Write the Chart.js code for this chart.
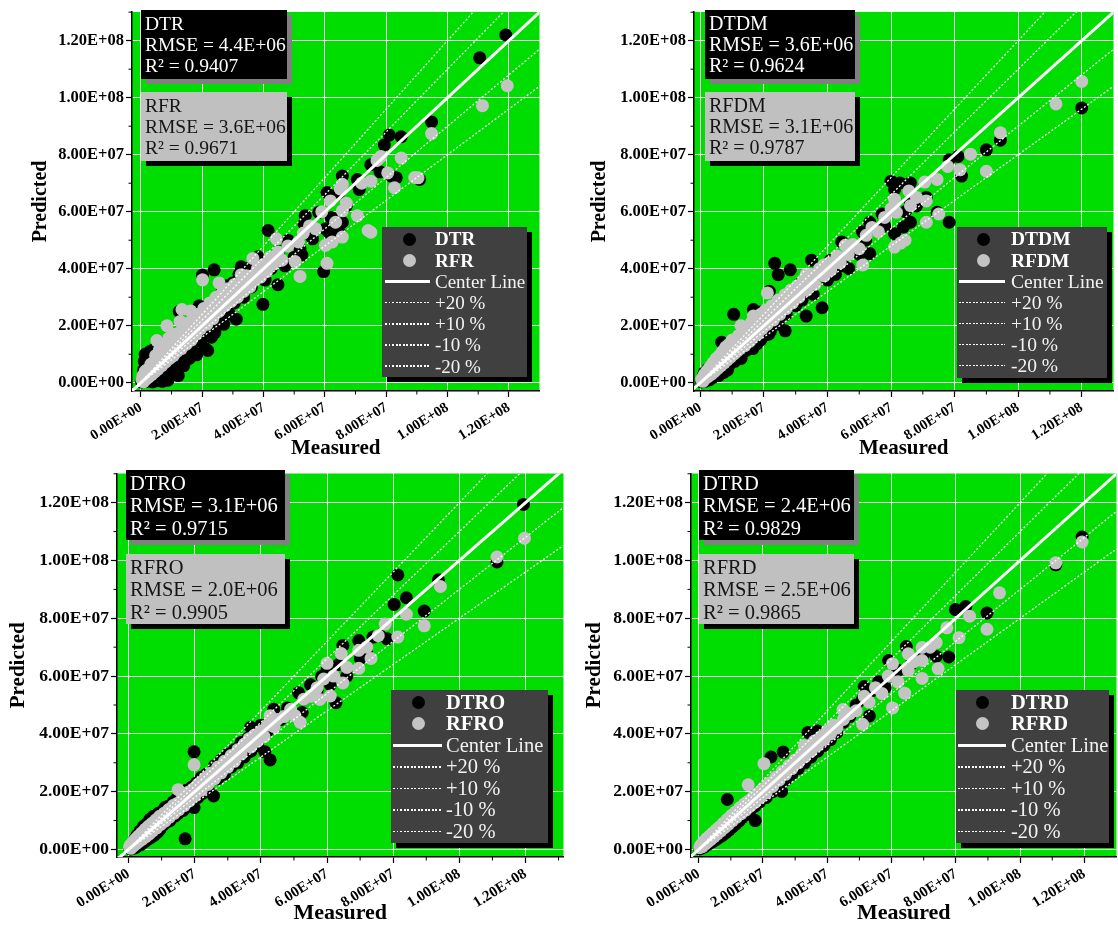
<!DOCTYPE html>
<html><head><meta charset="utf-8">
<script src="https://cdn.jsdelivr.net/npm/chart.js@4.4.1/dist/chart.umd.min.js"></script>
<style>
html,body{margin:0;padding:0;background:#fff;overflow:hidden;}
#wrap{position:relative;width:1118px;height:929px;overflow:hidden;background:#fff;font-family:'Liberation Serif','Times New Roman',serif;}
canvas{position:absolute;}
.sbox{position:absolute;box-sizing:border-box;padding-left:4px;white-space:nowrap;}
.sbox div{display:block;}
.lg{position:absolute;background:#404040;box-shadow:5px 5px 0 #000;}
.lg span{position:absolute;color:#fff;white-space:nowrap;}
</style></head><body><div id="wrap"></div>
<script>
// ---------- data (values in units of 1E+06) ----------
const tickValues = [0, 20, 40, 60, 80, 100, 120];
const tickLabels = ['0.00E+00', '2.00E+07', '4.00E+07', '6.00E+07', '8.00E+07', '1.00E+08', '1.20E+08'];
const minorTickValues = [10, 30, 50, 70, 90, 110, 130];

const dtNames = ['DTR', 'DTDM', 'DTRO', 'DTRD'];
const rfNames = ['RFR', 'RFDM', 'RFRO', 'RFRD'];
const dtRMSE = ['4.4E+06', '3.6E+06', '3.1E+06', '2.4E+06'];
const rfRMSE = ['3.6E+06', '3.1E+06', '2.0E+06', '2.5E+06'];
const dtR2 = ['0.9407', '0.9624', '0.9715', '0.9829'];
const rfR2 = ['0.9671', '0.9787', '0.9905', '0.9865'];

const refLineLabels = ['Center Line', '+20 %', '+10 %', '-10 %', '-20 %'];
const refLineFactors = [1, 1.2, 1.1, 0.9, 0.8];

// [measured, predicted]
const DTR = [[0.3,0.2],[0.6,1.8],[0.9,4.5],[1.1,7.5],[1.4,10],[1.6,0.4],[2.0,2.6],[2.4,5.5],[2.8,8.8],[3.2,0.9],[3.6,3.5],[4.0,11.5],[4.4,1.5],[4.8,6.2],[5.2,0.7],[5.6,9.5],[6.0,2.8],[6.4,12.8],[6.8,4.5],[7.2,1.2],[7.6,8.0],[8.0,2.2],[8.4,14.5],[8.8,0.9],[9.2,5.0],[9.6,10.5],[10.0,3.2],[10.5,16.0],[11.0,6.5],[11.5,12.5],[12.0,4.8],[12.5,25.0],[13.0,8.5],[13.5,18.0],[14.0,6.0],[14.8,12.5],[15.2,20.5],[15.8,8.5],[16.5,15.0],[17.0,11.0],[17.8,22.0],[18.2,9.8],[19.0,27.0],[19.5,14.5],[20.1,37.8],[20.5,18.0],[21.0,12.0],[21.8,11.3],[22.5,24.5],[23.0,16.0],[23.9,39.6],[24.1,17.6],[24.5,29.0],[25.5,21.0],[26.5,32.0],[27.0,20.5],[28.0,34.0],[29.0,24.0],[30.0,35.0],[31.1,22.3],[32.0,38.0],[32.7,40.7],[33.5,30.0],[35.0,40.0],[36.0,33.5],[37.0,42.0],[38.2,39.6],[38.2,44.2],[39.8,27.5],[40.5,36.0],[41.5,53.4],[42.5,40.0],[44.7,34.4],[45.0,46.0],[46.4,42.5],[47.0,41.0],[48.0,50.0],[50.0,44.0],[51.9,47.1],[52.5,44.8],[53.2,55.7],[53.6,58.6],[55.0,52.0],[56.0,50.5],[58.0,59.8],[59.6,39.0],[60.2,54.0],[60.7,66.7],[61.3,52.8],[62.0,58.0],[63.7,57.4],[64.6,66.7],[65.7,56.3],[65.7,72.5],[64.8,52.8],[67.0,62.0],[70.6,71.3],[71.2,67.8],[75.0,76.5],[78.0,74.0],[79.4,83.4],[81.0,86.9],[81.7,72.5],[83.3,71.9],[84.9,86.3],[90.9,71.3],[94.8,91.5],[110.5,114.0],[119.0,122.0],
  [1.0,2.0],[1.8,6.5],[2.2,9.5],[3.0,11.0],[3.8,0.3],[4.2,8.5],[5.0,5.0],[5.8,1.8],[6.2,7.0],[7.0,0.5],[7.8,3.5],[8.2,11.0],[9.0,1.8],[10.2,6.0],[11.2,9.0],[12.2,2.5],[13.2,14.0],[14.5,9.5],[16.0,11.5],[17.3,17.5],[18.8,20.5],[19.8,16.0],[21.5,22.0],[23.5,20.5],[25.0,25.0],[26.0,24.0],[27.5,28.5],[29.5,30.5],[30.5,28.0],[33.0,34.5],[34.5,33.0],[36.5,37.5],[39.0,40.0],[43.5,43.0]];
const RFR = [[0.4,1.0],[0.8,0.3],[1.2,3.0],[1.6,1.2],[2.0,4.5],[2.5,2.0],[3.0,5.5],[3.5,2.8],[4.0,7.0],[4.5,3.8],[5.2,14.8],[5.0,8.0],[5.6,4.8],[6.2,9.5],[6.8,6.0],[7.4,11.0],[8.0,7.2],[8.5,20.0],[8.8,12.5],[9.4,8.5],[10.0,14.0],[10.6,9.5],[11.2,16.0],[11.8,11.0],[12.5,17.5],[13.4,25.7],[13.2,12.0],[14.0,19.0],[14.8,13.5],[15.5,21.0],[16.2,25.2],[16.5,15.0],[17.2,22.5],[18.0,17.0],[18.8,24.0],[19.5,19.0],[20.1,36.1],[20.5,26.0],[21.5,20.5],[22.5,28.0],[23.5,22.5],[24.5,30.0],[25.5,35.0],[25.5,25.0],[26.5,31.5],[27.5,27.0],[28.5,33.0],[29.5,28.5],[30.5,34.5],[31.5,30.0],[32.7,37.9],[33.5,32.0],[34.5,37.5],[35.5,33.5],[36.5,43.6],[37.0,36.0],[38.0,40.0],[39.0,37.0],[40.0,41.5],[41.0,39.0],[42.0,44.0],[43.0,41.5],[44.2,50.5],[44.8,45.9],[46.0,43.0],[48.0,48.0],[50.3,42.5],[51.4,49.4],[51.9,37.3],[53.0,52.5],[55.0,55.0],[57.0,54.0],[59.0,60.0],[60.2,48.2],[60.7,41.9],[61.8,63.8],[62.4,49.4],[63.5,56.3],[65.0,68.0],[65.7,51.1],[65.7,60.3],[65.7,69.6],[67.0,63.0],[70.6,58.6],[72.0,70.0],[74.1,53.4],[75.0,52.8],[75.0,70.7],[77.0,78.0],[78.3,79.4],[80.5,73.6],[82.7,68.4],[84.9,78.8],[89.3,72.0],[90.4,71.9],[94.8,87.4],[111.4,97.2],[119.5,104.2],
  [0.6,2.2],[1.0,1.5],[1.4,4.0],[2.2,3.0],[2.8,4.8],[3.3,6.5],[4.2,5.2],[4.8,9.5],[5.4,6.5],[6.0,11.5],[6.6,8.0],[7.2,13.0],[7.8,9.5],[8.4,10.5],[9.0,15.5],[9.8,11.5],[10.4,17.0],[11.0,13.0],[12.0,14.5],[12.8,21.5],[13.8,16.0],[15.0,17.5],[16.0,18.5],[17.5,20.0],[18.5,21.5],[19.5,23.0],[21.0,24.0],[22.0,23.0],[23.0,26.5],[24.0,25.5],[26.0,28.0],[27.0,30.0],[29.0,31.0],[31.0,33.0],[33.0,35.5],[35.0,36.5],[37.5,38.5],[40.5,39.5]];

const DTDM = [[0.4,0.3],[0.8,1.5],[1.2,3.5],[1.6,0.8],[2.0,2.5],[2.5,5.0],[3.0,1.5],[3.5,4.0],[4.0,2.2],[4.5,6.5],[5.0,3.0],[5.5,8.0],[6.0,4.0],[6.7,14.2],[7.0,5.0],[7.5,9.5],[8.0,6.0],[8.5,4.4],[9.0,11.5],[9.5,7.0],[10.5,24.0],[10.0,9.0],[11.0,13.0],[11.5,8.5],[12.5,15.0],[13.0,10.0],[14.4,11.3],[14.0,17.5],[15.0,12.5],[16.0,19.0],[16.7,25.7],[17.0,14.0],[17.8,13.6],[18.5,21.0],[19.5,25.0],[20.0,16.5],[21.7,32.1],[22.0,18.0],[23.4,41.9],[23.0,26.0],[24.5,37.9],[24.5,20.5],[25.5,29.0],[26.7,18.2],[27.0,24.0],[28.3,39.6],[28.5,31.0],[30.0,27.0],[31.0,34.5],[32.0,29.0],[33.3,23.4],[34.0,37.0],[35.0,43.0],[35.5,31.0],[37.0,39.0],[38.3,26.3],[38.9,40.7],[40.0,36.0],[41.0,43.0],[42.5,38.0],[44.5,49.4],[45.0,41.0],[46.7,40.1],[48.0,47.0],[50.0,45.0],[51.0,53.0],[52.0,50.0],[53.3,56.3],[53.3,45.3],[55.0,54.0],[57.2,59.2],[58.0,55.0],[60.0,70.7],[61.1,67.8],[61.1,52.3],[62.8,70.1],[63.9,54.6],[64.5,60.0],[66.1,70.1],[66.1,63.2],[66.1,56.3],[68.0,62.0],[71.1,65.0],[74.5,59.8],[78.3,78.2],[78.3,56.3],[81.1,79.4],[82.2,72.5],[90.0,81.7],[94.4,85.1],[120.0,96.4],
  [1.0,2.2],[1.4,0.5],[2.2,3.5],[2.8,1.0],[3.3,5.5],[3.8,1.8],[4.3,4.5],[5.2,6.0],[5.8,2.5],[6.4,7.5],[7.2,3.5],[7.8,8.0],[8.8,5.5],[9.8,10.5],[10.8,7.5],[11.8,12.0],[12.8,8.5],[13.5,13.0],[15.5,15.0],[16.5,12.0],[18.0,18.5],[19.0,15.0],[20.5,20.0],[21.5,17.0],[23.0,22.5],[25.0,23.0],[26.0,27.0],[29.0,29.5],[31.5,31.0],[33.5,34.0],[36.0,36.5]];
const RFDM = [[0.4,1.2],[0.8,0.5],[1.2,2.8],[1.6,1.5],[2.0,4.0],[2.5,2.2],[3.0,5.5],[3.5,3.0],[4.0,7.0],[4.5,4.0],[5.0,8.5],[5.5,5.0],[6.0,9.5],[6.5,6.0],[7.0,11.0],[7.5,7.0],[8.0,12.5],[8.5,8.0],[9.0,13.5],[9.5,9.0],[10.0,15.0],[10.5,10.0],[11.0,14.0],[11.5,11.0],[12.0,16.5],[12.8,20.0],[12.5,12.0],[13.5,17.5],[14.0,13.0],[15.0,19.0],[15.5,14.5],[16.0,21.0],[16.7,23.4],[16.5,16.0],[17.5,22.0],[18.0,17.0],[19.0,24.0],[19.5,19.0],[20.5,25.5],[21.1,31.5],[21.0,20.5],[22.5,27.0],[23.0,22.0],[24.5,29.0],[25.0,24.0],[26.7,30.9],[27.0,26.0],[28.5,32.5],[29.0,28.0],[30.5,34.0],[31.0,30.0],[32.5,36.0],[33.3,37.9],[33.5,32.5],[35.0,38.0],[36.0,34.5],[37.5,40.0],[38.9,41.3],[39.0,37.5],[40.5,42.0],[41.0,39.5],[43.0,44.5],[44.0,42.0],[45.6,48.2],[46.5,45.0],[48.0,48.5],[50.0,47.0],[51.1,41.3],[52.2,51.7],[54.0,54.5],[56.0,53.0],[58.0,58.0],[60.0,61.0],[61.1,64.4],[61.1,47.6],[61.7,59.8],[63.0,49.0],[64.4,50.0],[65.6,67.3],[66.1,62.1],[68.0,65.0],[70.6,70.4],[71.1,63.8],[71.1,56.3],[74.5,71.3],[75.0,59.2],[77.8,75.9],[81.7,74.7],[85.0,80.2],[90.0,74.2],[94.4,87.7],[111.9,97.8],[120.0,105.7],
  [0.6,0.8],[1.0,2.0],[1.8,2.5],[2.2,3.2],[2.8,3.8],[3.3,4.5],[3.8,5.0],[4.3,5.8],[4.8,6.2],[5.3,6.8],[5.8,7.5],[6.3,8.0],[6.8,8.5],[7.3,9.5],[7.8,10.0],[8.3,10.5],[8.8,11.0],[9.3,12.0],[9.8,12.5],[10.8,13.0],[11.8,14.0],[13.0,15.5],[14.5,17.0],[16.0,18.5],[17.0,19.5],[18.5,20.5],[20.0,22.5],[21.5,23.5],[23.5,25.5],[26.0,28.5],[28.0,30.0],[30.0,32.0],[32.0,33.5],[34.5,36.0],[37.0,38.5]];

const DTRO = [[0.3,0.5],[0.6,0.2],[1.0,2.0],[1.4,0.8],[1.8,3.5],[2.2,1.0],[2.6,5.0],[3.0,1.5],[3.5,6.5],[4.0,2.2],[4.5,8.0],[5.0,3.0],[5.5,9.0],[6.0,4.0],[6.5,10.5],[7.0,5.0],[7.5,11.5],[8.0,6.0],[8.5,7.5],[9.0,12.5],[9.5,7.0],[10.0,13.0],[10.5,8.5],[11.0,14.5],[11.5,9.5],[12.0,15.0],[12.5,10.0],[13.5,16.5],[14.0,11.5],[14.5,17.5],[15.0,12.5],[16.0,19.0],[16.5,13.5],[17.1,3.7],[17.5,20.5],[18.0,15.0],[19.0,21.5],[19.8,33.8],[19.8,14.5],[20.5,23.0],[21.0,18.0],[22.0,25.0],[22.5,19.5],[23.5,26.0],[24.0,21.0],[25.7,18.5],[26.0,29.0],[27.0,24.5],[28.0,31.0],[29.0,26.0],[30.0,33.0],[31.0,28.5],[32.0,34.5],[33.0,30.0],[34.0,37.0],[35.0,32.0],[36.0,38.5],[36.9,42.3],[37.0,34.0],[38.5,40.0],[39.0,36.0],[40.0,43.0],[41.2,33.8],[42.0,41.0],[42.8,31.0],[43.9,48.5],[44.0,44.0],[46.0,45.0],[48.0,49.0],[50.0,47.0],[51.4,54.2],[52.5,47.4],[53.0,52.0],[55.0,57.0],[57.0,55.0],[58.4,59.9],[60.0,62.0],[61.0,57.0],[62.7,50.8],[63.5,64.0],[64.8,70.6],[66.0,60.0],[69.6,72.3],[70.1,66.1],[72.0,68.0],[73.9,73.5],[76.0,74.0],[78.2,72.9],[80.3,84.8],[81.4,95.0],[84.0,87.1],[89.4,82.5],[93.7,93.3],[111.4,99.5],[119.4,119.4],
  [0.8,1.2],[1.2,0.4],[1.6,2.4],[2.0,0.6],[2.4,3.0],[2.8,1.2],[3.3,4.0],[3.8,1.8],[4.3,5.0],[4.8,2.6],[5.3,6.0],[5.8,3.5],[6.3,7.0],[6.8,4.2],[7.3,8.0],[7.8,5.0],[8.3,9.0],[8.8,6.0],[9.3,10.0],[10.2,10.5],[11.2,11.0],[12.2,12.0],[13.2,13.0],[15.5,15.0],[17.0,17.0],[18.5,18.0],[20.0,20.0],[23.0,23.0],[25.0,25.0],[28.5,28.5]];
const RFRO = [[0.3,0.8],[0.7,0.4],[1.1,2.2],[1.5,1.2],[1.9,3.2],[2.3,2.0],[2.8,4.2],[3.2,2.8],[3.7,5.2],[4.2,3.6],[4.7,6.2],[5.2,4.4],[5.7,7.2],[6.2,5.3],[6.8,8.2],[7.3,6.4],[7.9,9.5],[8.5,7.5],[9.1,10.5],[9.7,8.7],[10.3,11.8],[11.0,9.8],[11.7,13.0],[12.4,11.2],[13.1,14.2],[13.8,12.5],[14.5,15.8],[15.0,20.7],[15.2,13.8],[16.0,17.2],[16.8,15.2],[17.6,18.8],[18.4,16.8],[19.2,20.5],[19.8,29.3],[20.0,18.5],[21.0,22.5],[22.0,20.5],[23.0,24.5],[24.0,22.5],[25.0,26.5],[26.0,24.5],[27.0,28.5],[28.0,26.5],[29.0,30.5],[30.0,28.5],[31.0,32.5],[32.0,30.5],[33.0,34.5],[34.0,33.0],[35.0,36.5],[36.4,38.3],[37.0,35.5],[38.0,39.5],[39.0,37.5],[40.0,41.0],[41.0,39.0],[42.0,43.0],[42.8,46.3],[44.0,42.5],[45.0,45.0],[47.0,46.0],[49.0,48.5],[50.3,46.3],[51.9,44.0],[53.0,52.0],[55.0,53.0],[57.0,56.0],[57.8,51.9],[59.0,59.0],[60.0,64.4],[61.0,53.1],[62.0,60.0],[64.3,67.8],[64.8,57.6],[66.0,63.0],[69.6,68.9],[69.6,62.7],[72.0,70.0],[73.3,66.1],[75.5,74.0],[77.6,78.0],[81.4,73.5],[84.0,81.4],[89.4,77.4],[94.3,91.0],[111.4,101.2],[119.7,107.7],
  [0.5,1.4],[0.9,1.8],[1.3,2.6],[1.7,2.2],[2.1,3.5],[2.6,3.2],[3.0,4.6],[3.5,4.0],[4.0,5.8],[4.5,5.0],[5.0,7.0],[5.5,6.0],[6.0,8.0],[6.5,7.0],[7.0,9.0],[7.6,8.2],[8.2,10.2],[8.8,9.5],[9.4,11.5],[10.0,10.5],[10.7,12.5],[11.4,11.5],[12.1,13.8],[12.8,12.8],[13.5,15.2],[14.2,14.0],[16.4,17.5],[18.0,19.8],[19.6,21.0],[21.5,23.0],[23.5,25.0]];

const DTRD = [[0.3,0.2],[0.6,0.9],[1.0,0.5],[1.4,1.6],[1.8,1.0],[2.2,2.5],[2.6,1.6],[3.0,3.2],[3.5,2.2],[4.0,3.8],[4.5,2.8],[5.0,4.5],[5.5,3.5],[6.0,5.2],[6.5,4.3],[7.0,6.0],[7.5,5.0],[8.0,6.8],[8.9,17.3],[8.5,5.8],[9.0,7.8],[9.5,6.8],[10.0,8.8],[10.5,7.8],[11.0,9.8],[11.5,8.8],[12.0,10.8],[12.5,9.8],[13.0,12.0],[13.5,11.0],[14.0,13.0],[14.5,12.0],[15.0,14.0],[16.0,13.5],[16.5,15.5],[17.6,10.0],[17.5,15.0],[18.0,17.5],[19.0,16.5],[20.0,19.5],[21.0,18.0],[22.0,21.5],[22.5,32.0],[23.0,20.0],[24.0,23.0],[25.8,20.1],[25.0,22.5],[26.3,33.7],[26.0,25.0],[27.0,24.0],[28.0,27.5],[29.0,26.0],[30.0,29.5],[31.0,28.0],[32.0,31.5],[33.0,30.0],[34.0,40.5],[34.0,33.0],[35.0,32.0],[36.0,35.0],[37.0,41.0],[37.0,34.0],[38.0,37.0],[39.0,36.0],[40.0,39.0],[41.0,38.0],[42.0,41.0],[43.0,40.5],[45.0,44.0],[47.0,46.0],[49.0,50.0],[51.0,52.0],[51.5,56.4],[53.1,46.2],[54.0,55.0],[56.0,58.0],[58.0,56.0],[59.1,65.4],[60.0,60.0],[62.0,62.0],[64.6,70.2],[66.0,64.0],[70.1,67.7],[73.9,66.8],[77.8,66.6],[79.9,83.0],[83.1,84.1],[89.7,81.8],[111.1,98.5],[119.3,108.1],
  [0.8,1.3],[1.2,0.7],[1.6,2.0],[2.0,1.2],[2.4,2.8],[2.8,2.0],[3.3,3.6],[3.8,2.6],[4.3,4.2],[4.8,3.2],[5.3,5.0],[5.8,4.0],[6.3,5.6],[6.8,4.8],[7.3,6.4],[7.8,5.6],[8.3,7.2],[8.8,6.4],[9.3,8.0],[9.8,7.4],[10.3,9.0],[10.8,8.4],[11.3,10.0],[12.3,11.5],[13.3,12.5],[14.3,13.5],[15.5,15.0],[17.0,16.0],[19.5,18.5],[21.5,20.5]];
const RFRD = [[0.3,0.6],[0.7,1.4],[1.1,1.0],[1.5,2.4],[1.9,1.8],[2.3,3.4],[2.8,2.6],[3.3,4.4],[3.8,3.5],[4.3,5.4],[4.8,4.4],[5.3,6.4],[5.8,5.4],[6.3,7.5],[6.9,6.4],[7.5,8.8],[8.1,7.6],[8.7,10.0],[9.3,8.8],[9.9,11.2],[10.5,10.0],[11.1,12.4],[11.8,11.2],[12.5,13.8],[13.2,12.4],[13.9,15.2],[14.6,13.6],[15.4,22.4],[15.3,16.6],[16.0,15.0],[16.8,18.0],[17.6,16.4],[18.4,19.5],[19.2,18.0],[20.3,29.7],[20.0,21.0],[21.0,19.6],[22.0,23.0],[23.0,21.8],[24.0,25.0],[25.0,24.0],[26.0,27.0],[27.0,26.0],[28.0,29.0],[29.0,28.0],[30.0,31.0],[31.0,30.0],[32.0,33.0],[32.9,36.0],[33.0,32.0],[34.0,35.0],[35.0,34.0],[36.0,37.5],[37.0,36.0],[38.0,39.0],[39.0,38.0],[40.0,41.0],[41.0,40.0],[42.0,43.0],[43.0,42.0],[44.9,48.4],[45.0,45.0],[47.0,47.0],[49.0,48.0],[51.0,43.3],[51.5,53.0],[53.0,51.0],[55.0,56.0],[57.0,54.0],[59.0,60.0],[60.3,64.3],[60.3,49.0],[62.0,58.0],[64.1,54.1],[65.2,67.7],[65.2,62.0],[67.0,65.0],[69.5,69.9],[69.5,65.4],[69.5,59.2],[72.0,70.0],[73.9,71.6],[74.5,62.6],[77.2,76.7],[81.0,73.3],[84.3,80.7],[89.7,76.2],[93.6,88.8],[111.1,99.2],[119.3,106.4],
  [0.5,1.0],[0.9,1.8],[1.3,1.4],[1.7,2.8],[2.1,2.2],[2.5,3.8],[3.0,3.0],[3.5,4.8],[4.0,4.0],[4.5,5.8],[5.0,5.0],[5.5,6.8],[6.0,6.0],[6.6,7.8],[7.2,7.0],[7.8,9.2],[8.4,8.2],[9.0,10.5],[9.6,9.5],[10.2,11.8],[10.8,10.8],[11.5,13.0],[12.2,12.0],[12.9,14.5],[13.6,13.4],[14.3,15.8],[16.4,17.2],[18.0,18.8],[19.6,20.4],[21.5,22.4]];

const dtSeries = [DTR, DTDM, DTRO, DTRD];
const rfSeries = [RFR, RFDM, RFRO, RFRD];

// ---------- layout / style ----------
const FONT = "'Liberation Serif','Times New Roman',serif";
const GREEN = '#00dd00';
const GRAY_PT = '#c4c4c4';

const panels = [
  {cv:{l:0,t:0,w:546,h:461}, wy:132, hx:70, pad:{top:6,right:4}, xr:[-2.9,130], yr:[-2.9,130.1], yPad:29, yTick:16.5, xTick:14.5, title:21, yTitle:20,
   box:{l:141,t1:10,t2:92,w:146,h:69,font:19.5,lh:21.3,pt:2.5},
   lg:{l:382,t:227,w:145,h:150,font:19,rowH:21.2,first:12,cx:27,tx:53,l0:3,l1:48}},
  {cv:{l:561,t:0,w:559,h:461}, wy:133, hx:70, pad:{top:6,right:0}, xr:[-2,130], yr:[-2.9,130.1], yPad:26.5, yTick:16.5, xTick:14.5, title:21, yTitle:20,
   box:{l:705,t1:10,t2:92,w:150,h:69,font:20,lh:21.4,pt:2.5},
   lg:{l:957,t:227,w:150,h:151,font:19.5,rowH:21.1,first:12,cx:26,tx:54,l0:2,l1:48}},
  {cv:{l:0,t:461,w:570,h:466}, wy:117, hx:70, pad:{top:6,right:3}, xr:[-3.5,131.5], yr:[-2.6,130.1], yPad:6, yTick:17.5, xTick:15, title:22, yTitle:21,
   box:{l:126,t1:470,t2:554,w:159,h:70,font:20.5,lh:22.5,pt:1.5},
   lg:{l:391,t:690,w:157,h:153,font:20.5,rowH:21.5,first:12.3,cx:27,tx:55,l0:2,l1:51}},
  {cv:{l:560,t:461,w:563,h:466}, wy:131, hx:70, pad:{top:6,right:0}, xr:[-2.4,130], yr:[-2.6,130.1], yPad:22, yTick:17.5, xTick:15, title:22, yTitle:21,
   box:{l:699,t1:470,t2:554,w:155,h:70,font:20.5,lh:22.5,pt:1.5},
   lg:{l:956,t:690,w:153,h:153,font:20.5,rowH:21.5,first:12.3,cx:26,tx:55,l0:2,l1:50}}
];

const wrap = document.getElementById('wrap');

const bgPlugin = {
  id: 'greenBg',
  beforeDraw(chart) {
    const {ctx, chartArea: a} = chart;
    ctx.save(); ctx.fillStyle = GREEN;
    ctx.fillRect(a.left, a.top, a.right - a.left, a.bottom - a.top);
    ctx.restore();
  }
};
const minorPlugin = {
  id: 'minorTicks',
  afterDraw(chart) {
    const {ctx, chartArea: a, scales} = chart;
    ctx.save(); ctx.strokeStyle = '#000'; ctx.lineWidth = 1;
    minorTickValues.forEach(v => {
      const px = scales.x.getPixelForValue(v);
      if (px > a.left && px < a.right) { ctx.beginPath(); ctx.moveTo(px, a.bottom); ctx.lineTo(px, a.bottom + 3.5); ctx.stroke(); }
      const py = scales.y.getPixelForValue(v);
      if (py > a.top && py < a.bottom) { ctx.beginPath(); ctx.moveTo(a.left, py); ctx.lineTo(a.left - 3.5, py); ctx.stroke(); }
    });
    ctx.restore();
  }
};

function toPts(arr) { return arr.map(p => ({x: p[0], y: p[1]})); }

function makeChart(p, k) {
  const c = document.createElement('canvas');
  c.width = p.cv.w; c.height = p.cv.h;
  c.style.left = p.cv.l + 'px'; c.style.top = p.cv.t + 'px';
  c.style.width = p.cv.w + 'px'; c.style.height = p.cv.h + 'px';
  wrap.appendChild(c);
  const lines = refLineFactors.map((f, i) => ({
    data: [{x: p.xr[0], y: f * p.xr[0]}, {x: p.xr[1], y: f * p.xr[1]}],
    showLine: true, borderColor: '#ffffff', borderWidth: i === 0 ? 3 : 1.3,
    borderDash: i === 0 ? [] : [2, 2], pointRadius: 0, fill: false, label: refLineLabels[i]
  }));
  const tickCb = v => { const i = tickValues.indexOf(v); return i >= 0 ? tickLabels[i] : ''; };
  const grid = {color: 'rgba(255,255,255,0.9)', lineWidth: 1, tickColor: '#000', tickLength: 6, tickWidth: 1.2};
  new Chart(c.getContext('2d'), {
    type: 'scatter',
    data: {datasets: [
      ...lines,
      {label: rfNames[k], data: toPts(rfSeries[k]), backgroundColor: GRAY_PT, borderWidth: 0, pointRadius: 6.5},
      {label: dtNames[k], data: toPts(dtSeries[k]), backgroundColor: '#000', borderWidth: 0, pointRadius: 6.5}
    ]},
    options: {
      responsive: false, animation: false, devicePixelRatio: 1, events: [],
      layout: {padding: {top: p.pad.top, right: p.pad.right, left: 0, bottom: 0}},
      plugins: {legend: {display: false}, tooltip: {enabled: false}},
      scales: {
        x: {type: 'linear', min: p.xr[0], max: p.xr[1],
          afterBuildTicks: s => { s.ticks = tickValues.map(v => ({value: v})); },
          afterFit: s => { s.height = p.hx; },
          ticks: {autoSkip: false, minRotation: 32, maxRotation: 32, padding: 2, color: '#000',
            font: {family: FONT, size: p.xTick, weight: 'bold'}, callback: tickCb},
          grid: grid, border: {display: true, color: '#000', width: 1.5},
          title: {display: true, text: 'Measured', color: '#000', padding: {top: 0, bottom: 0},
            font: {family: FONT, size: p.title, weight: 'bold'}}},
        y: {type: 'linear', min: p.yr[0], max: p.yr[1],
          afterBuildTicks: s => { s.ticks = tickValues.map(v => ({value: v})); },
          afterFit: s => { s.width = p.wy; },
          ticks: {autoSkip: false, padding: 2, color: '#000',
            font: {family: FONT, size: p.yTick, weight: 'bold'}, callback: tickCb},
          grid: grid, border: {display: true, color: '#000', width: 1.5},
          title: {display: true, text: 'Predicted', color: '#000', padding: {top: p.yPad, bottom: 0},
            font: {family: FONT, size: p.yTitle, weight: 'bold'}}}
      }
    },
    plugins: [bgPlugin, minorPlugin]
  });
}

function el(tag, css, parent, text) {
  const e = document.createElement(tag);
  Object.assign(e.style, css);
  if (text !== undefined) e.textContent = text;
  parent.appendChild(e);
  return e;
}

function makeStats(p, k) {
  const B = p.box;
  const specs = [
    {top: B.t1, bg: '#000', fg: '#fff', sh: '#808080', lines: [dtNames[k], 'RMSE = ' + dtRMSE[k], 'R\u00B2 = ' + dtR2[k]]},
    {top: B.t2, bg: '#c0c0c0', fg: '#151515', sh: '#000', lines: [rfNames[k], 'RMSE = ' + rfRMSE[k], 'R\u00B2 = ' + rfR2[k]]}
  ];
  specs.forEach(s => {
    const d = el('div', {left: B.l + 'px', top: s.top + 'px', width: B.w + 'px', height: B.h + 'px',
      background: s.bg, color: s.fg, boxShadow: '5px 5px 0 ' + s.sh, fontSize: B.font + 'px',
      lineHeight: B.lh + 'px', paddingTop: B.pt + 'px', fontFamily: FONT}, wrap);
    d.className = 'sbox';
    s.lines.forEach(t => el('div', {}, d, t));
  });
}

function makeLegend(p, k) {
  const L = p.lg;
  const d = el('div', {left: L.l + 'px', top: L.t + 'px', width: L.w + 'px', height: L.h + 'px'}, wrap);
  d.className = 'lg';
  const labels = [dtNames[k], rfNames[k], ...refLineLabels];
  labels.forEach((t, i) => {
    const cy = L.first + i * L.rowH;
    if (i < 2) {
      const r = 6.5;
      el('div', {position: 'absolute', left: (L.cx - r) + 'px', top: (cy - r) + 'px', width: 2 * r + 'px', height: 2 * r + 'px',
        borderRadius: '50%', background: i === 0 ? '#000' : GRAY_PT}, d);
    } else if (i === 2) {
      el('div', {position: 'absolute', left: L.l0 + 'px', top: (cy - 1.5) + 'px', width: (L.l1 - L.l0) + 'px', height: '3px', background: '#fff'}, d);
    } else {
      el('div', {position: 'absolute', left: L.l0 + 'px', top: (cy - 0.75) + 'px', width: (L.l1 - L.l0) + 'px', height: '1.5px',
        background: 'repeating-linear-gradient(to right,#fff 0 2px,transparent 2px 3.5px)'}, d);
    }
    el('span', {left: L.tx + 'px', top: (cy - L.rowH / 2) + 'px', lineHeight: L.rowH + 'px', height: L.rowH + 'px',
      fontSize: L.font + 'px', fontWeight: i < 2 ? 'bold' : 'normal', fontFamily: FONT, color: i < 2 ? '#fff' : '#f2f2f2'}, d, t);
  });
}

panels.forEach((p, k) => { makeChart(p, k); });
panels.forEach((p, k) => { makeStats(p, k); makeLegend(p, k); });
</script></body></html>
